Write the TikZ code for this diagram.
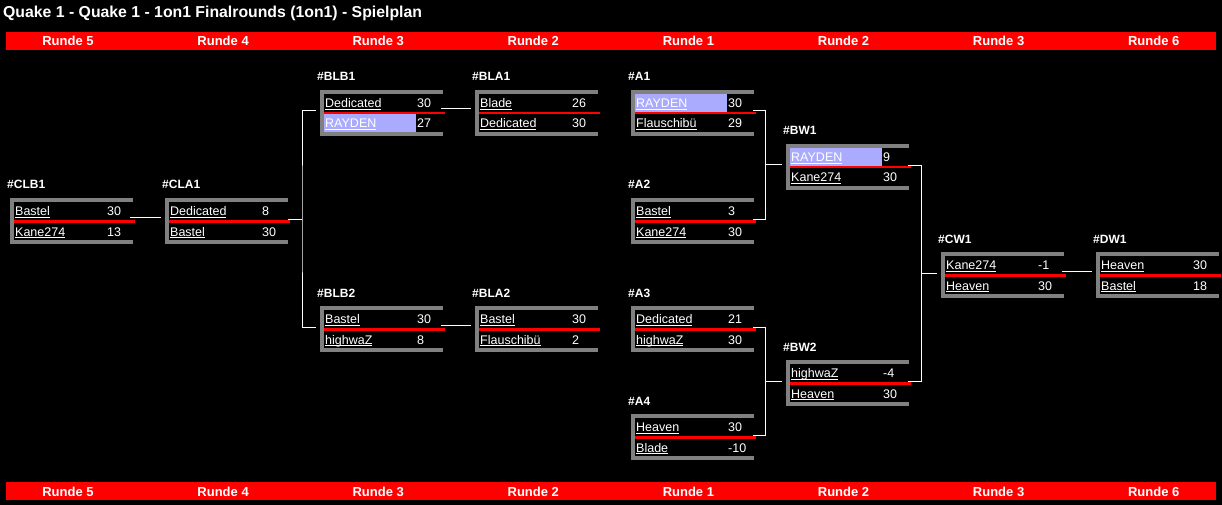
\documentclass[tikz,border=0pt]{standalone}
\usepackage{fontspec}
\setmainfont{Liberation Sans}
\usetikzlibrary{calc}
\definecolor{framegray}{HTML}{808080}
\definecolor{barred}{HTML}{FF0000}
\definecolor{hilite}{HTML}{AAAAFF}
\newcommand\ulname[1]{\setbox0\hbox{#1}\rlap{\rule[-2pt]{\wd0}{1pt}}\box0}
\tikzset{
  txt/.style={inner sep=0pt, anchor=base west, text=white, font=\fontsize{12.5}{14}\selectfont},
  lbl/.style={inner sep=0pt, anchor=base west, text=white, font=\fontsize{12}{14}\selectfont\bfseries},
  hdr/.style={inner sep=0pt, anchor=base, text=white, font=\fontsize{13}{15}\selectfont\bfseries},
  conn/.style={draw=white, line width=1pt},
}
\newcommand\matchbox[8]{%
  \coordinate (#1) at (#2,#3);
  \ifcase#8\or
    \fill[hilite] ($(#1)+(4,4)$) rectangle ($(#1)+(96,22)$);
  \or
    \fill[hilite] ($(#1)+(4,24)$) rectangle ($(#1)+(96,42)$);
  \fi
  \fill[framegray] (#1) rectangle ($(#1)+(123,4)$);
  \fill[framegray] (#1) rectangle ($(#1)+(4,46)$);
  \fill[framegray] ($(#1)+(0,42)$) rectangle ($(#1)+(123,46)$);
  \fill[barred] ($(#1)+(4,22)$) rectangle ($(#1)+(125,24.5)$);
  \node[lbl] (#1-lbl) at ($(#1)+(-3,-9)$) {\##1};
  \node[txt] (#1-p1) at ($(#1)+(5,17.7)$) {\ulname{#4}};
  \node[txt] (#1-s1) at ($(#1)+(97,17.7)$) {#5};
  \node[txt] (#1-p2) at ($(#1)+(5,38)$) {\ulname{#6}};
  \node[txt] (#1-s2) at ($(#1)+(97,38)$) {#7};
}
\begin{document}
\begin{tikzpicture}[x=1pt,y=-1pt]
\useasboundingbox (0,0) rectangle (1222,505);
\fill[black] (0,0) rectangle (1222,505);
\node[inner sep=0pt, anchor=base west, text=white, font=\fontsize{15.8}{18}\selectfont\bfseries] (title) at (3,18) {Quake 1 - Quake 1 - 1on1 Finalrounds (1on1) - Spielplan};
\fill[barred] (6,32) rectangle (1216,50);
\fill[barred] (6,482) rectangle (1216,500);
\foreach \t [count=\i from 0] in {Runde 5,Runde 4,Runde 3,Runde 2,Runde 1,Runde 2,Runde 3,Runde 6}{
  \node[hdr] (ht\i) at (68+155.1*\i,46) {\t};
  \node[hdr] (hb\i) at (68+155.1*\i,496) {\t};
}
\matchbox{CLB1}{10}{198}{Bastel}{30}{Kane274}{13}{0}
\matchbox{CLA1}{165}{198}{Dedicated}{8}{Bastel}{30}{0}
\matchbox{BLB1}{320}{90}{Dedicated}{30}{RAYDEN}{27}{2}
\matchbox{BLB2}{320}{306}{Bastel}{30}{highwaZ}{8}{0}
\matchbox{BLA1}{475}{90}{Blade}{26}{Dedicated}{30}{0}
\matchbox{BLA2}{475}{306}{Bastel}{30}{Flauschibü}{2}{0}
\matchbox{A1}{631}{90}{RAYDEN}{30}{Flauschibü}{29}{1}
\matchbox{A2}{631}{198}{Bastel}{3}{Kane274}{30}{0}
\matchbox{A3}{631}{306}{Dedicated}{21}{highwaZ}{30}{0}
\matchbox{A4}{631}{414}{Heaven}{30}{Blade}{-10}{0}
\matchbox{BW1}{786}{144}{RAYDEN}{9}{Kane274}{30}{1}
\matchbox{BW2}{786}{360}{highwaZ}{-4}{Heaven}{30}{0}
\matchbox{CW1}{941}{252}{Kane274}{-1}{Heaven}{30}{0}
\matchbox{DW1}{1096}{252}{Heaven}{30}{Bastel}{18}{0}
% straight connectors
\draw[conn] ($(CLB1)+(120,19)$) -- ($(CLA1)+(-4,19)$);
\draw[conn] ($(BLB1)+(121,19)$) -- ($(BLA1)+(-4,19)$);
\draw[conn] ($(BLB2)+(121,19)$) -- ($(BLA2)+(-4,19)$);
\draw[conn] ($(CW1)+(121,19)$) -- ($(DW1)+(-4,19)$);
% loser bracket split
\draw[conn] ($(BLB1)+(-4,21)$) -| ($(CLA1)+(137,21)$) |- ($(BLB2)+(-4,21)$);
\draw[conn] ($(CLA1)+(123,21)$) -- ($(CLA1)+(137,21)$);
% winner bracket
\draw[conn] ($(A1)+(122,21)$) -| ($(BW1)+(-21,21)$) |- ($(A2)+(122,21)$);
\draw[conn] ($(BW1)+(-21,21)$) -- ($(BW1)+(-4,21)$);
\draw[conn] ($(A3)+(122,21)$) -| ($(BW2)+(-21,21)$) |- ($(A4)+(122,21)$);
\draw[conn] ($(BW2)+(-21,21)$) -- ($(BW2)+(-4,21)$);
\draw[conn] ($(BW1)+(122,22)$) -| ($(CW1)+(-20,21)$) |- ($(BW2)+(122,21)$);
\draw[conn] ($(CW1)+(-20,21)$) -- ($(CW1)+(-4,21)$);
\end{tikzpicture}
\end{document}
